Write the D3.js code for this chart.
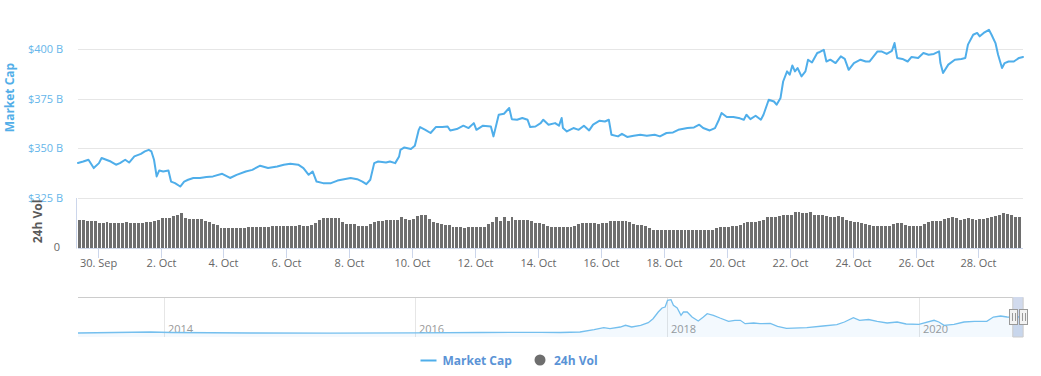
<!DOCTYPE html>
<html><head><meta charset="utf-8">
<script src="https://cdn.jsdelivr.net/npm/d3@7"></script>
<style>
body{margin:0;background:#fff}
svg{display:block;font-family:"Open Sans",sans-serif}
</style>
</head><body>
<svg id="c" width="1041" height="376"></svg>
<script>
// ---------- data ----------
const capTimes = ["09-29 09","09-29 13","09-29 17","09-29 21","09-30 01","09-30 03","09-30 10","09-30 14","09-30 17","09-30 21",
"10-01 00","10-01 04","10-01 09","10-01 12","10-01 15","10-01 17","10-01 19","10-01 21","10-01 23","10-02 02",
"10-02 06","10-02 08","10-02 11","10-02 15","10-02 18","10-02 21","10-03 01","10-03 06","10-03 11","10-03 16",
"10-03 23","10-04 05","10-04 10","10-04 17","10-04 22","10-05 04","10-05 10","10-05 17","10-05 22","10-06 03",
"10-06 09","10-06 13","10-06 17","10-06 20","10-06 23","10-07 04","10-07 10","10-07 15","10-07 20","10-08 01",
"10-08 06","10-08 10","10-08 13","10-08 16","10-08 19","10-08 22","10-09 04","10-09 07","10-09 11","10-09 14",
"10-09 15","10-09 18","10-09 23","10-10 02","10-10 05","10-10 06","10-10 10","10-10 14","10-10 18","10-10 23",
"10-11 03","10-11 05","10-11 10","10-11 15","10-11 19","10-11 23","10-12 01","10-12 06","10-12 12","10-12 14",
"10-12 18","10-12 22","10-13 02","10-13 04","10-13 08","10-13 12","10-13 16","10-13 18","10-13 22","10-14 02",
"10-14 04","10-14 08","10-14 13","10-14 16","10-14 18","10-14 19","10-14 22","10-15 03","10-15 07","10-15 11",
"10-15 15","10-15 18","10-15 23","10-16 03","10-16 06","10-16 08","10-16 13","10-16 16","10-16 20","10-17 01",
"10-17 06","10-17 11","10-17 17","10-17 21","10-18 02","10-18 07","10-18 11","10-18 18","10-18 23","10-19 03",
"10-19 06","10-19 11","10-19 15","10-19 18","10-19 20","10-20 00","10-20 05","10-20 10","10-20 13","10-20 15",
"10-20 18","10-20 22","10-21 02","10-21 04","10-21 08","10-21 12","10-21 14","10-21 17","10-21 19","10-21 22",
"10-22 00","10-22 02","10-22 04","10-22 06","10-22 09","10-22 12","10-22 14","10-22 17","10-22 21","10-22 23",
"10-23 02","10-23 04","10-23 07","10-23 11","10-23 15","10-23 18","10-23 21","10-24 01","10-24 06","10-24 10",
"10-24 13","10-24 19","10-24 22","10-25 02","10-25 06","10-25 08","10-25 10","10-25 14","10-25 18","10-25 21",
"10-26 02","10-26 06","10-26 10","10-26 14","10-26 18","10-26 19","10-26 21","10-27 01","10-27 06","10-27 11",
"10-27 14","10-27 16","10-27 20","10-27 23","10-28 01","10-28 04","10-28 08","10-28 10","10-28 13","10-28 15",
"10-28 18","10-28 20","10-28 23","10-29 03","10-29 07","10-29 10"];
// market cap, billions USD
const capValues = [342.6,343.3,344.2,340.0,342.5,345.1,343.3,341.7,342.5,344.2,
342.8,345.9,347.2,348.4,349.2,348.4,344.2,335.8,338.8,338.3,
338.8,333.2,332.4,330.7,333.2,334.1,335.0,335.0,335.5,335.8,
337.1,335.0,336.6,338.3,339.1,341.2,340.0,340.8,341.7,342.2,
341.7,340.0,336.6,338.3,333.2,332.4,332.4,333.7,334.4,335.0,
334.4,333.2,331.9,334.1,342.5,343.3,342.8,343.3,342.5,345.9,
349.2,350.4,349.6,351.3,359.3,360.7,359.3,357.7,360.7,360.7,
361.0,359.0,359.7,361.4,360.2,362.7,359.3,361.4,361.0,356.0,
366.9,367.4,370.3,364.7,364.4,365.3,364.4,360.7,361.0,362.7,
364.4,361.9,362.7,361.4,365.3,360.2,358.5,360.2,359.3,361.4,
359.0,361.9,363.9,363.5,364.4,356.8,356.0,357.3,355.7,356.3,
356.8,356.3,356.8,356.0,357.7,358.0,359.3,360.2,360.5,361.9,
360.2,359.0,360.2,364.4,367.8,365.8,365.8,365.1,364.4,366.9,
364.7,366.4,364.4,366.9,374.5,373.6,372.0,375.4,383.7,388.8,
387.1,391.8,388.8,390.5,386.3,388.8,394.7,393.3,398.1,398.6,
399.7,393.8,394.7,393.0,396.4,395.1,389.6,393.0,394.7,393.8,
393.8,398.9,398.9,397.6,399.2,403.1,395.6,395.1,393.8,396.1,
395.6,398.1,397.2,397.6,398.9,393.0,388.0,392.2,394.7,395.1,
395.6,402.3,407.3,408.2,406.5,408.2,409.8,407.3,403.1,397.2,
390.5,393.0,393.8,393.8,395.6,396.1];

// 24h volume, billions USD, one bar per 3 hours starting at volStart
const volStart = "2020-09-29 09";
const volValues = [28.3,28.5,27.8,27.3,27.0,25.8,25.6,25.9,25.5,25.7,
25.6,25.8,25.9,25.5,25.0,25.1,25.0,26.0,26.2,27.8,
28.3,30.0,30.0,30.2,32.5,33.3,35.7,30.0,29.3,29.5,
29.3,29.0,27.0,26.0,24.5,23.0,20.5,20.3,20.5,20.3,
20.5,20.3,20.6,21.5,21.7,21.5,21.8,21.7,21.6,22.0,
22.7,22.5,22.8,22.7,22.6,22.7,22.9,22.7,22.5,23.0,
25.0,28.0,30.0,30.2,30.0,30.0,30.0,26.0,24.3,24.3,
24.0,22.3,22.3,22.8,24.0,26.5,27.7,27.7,28.0,28.3,
28.3,28.3,31.0,29.0,28.5,29.5,32.0,33.3,33.5,29.0,
26.0,25.0,24.5,23.5,23.0,21.5,21.0,21.0,20.8,21.0,
21.0,21.2,21.0,21.5,24.0,26.7,31.5,27.0,31.7,27.5,
31.7,28.3,28.3,28.3,28.3,27.0,25.0,25.0,24.5,22.0,
21.7,21.5,21.7,21.5,21.8,21.7,22.5,24.5,25.0,25.0,
25.0,25.3,24.8,25.2,25.0,27.0,27.3,27.5,27.3,27.0,
26.5,24.0,23.3,23.3,22.5,20.0,18.5,18.3,18.3,18.2,
18.3,18.2,18.4,18.3,18.5,18.3,18.4,18.3,18.5,18.3,
18.5,18.5,20.5,21.7,21.5,21.7,22.0,22.3,23.5,25.5,
26.0,26.7,26.5,27.0,28.0,31.5,31.7,31.7,32.0,33.0,
33.3,33.3,36.0,36.7,35.5,35.0,36.5,33.3,33.0,33.3,
32.5,31.5,31.7,32.5,31.5,28.0,27.0,26.7,26.5,25.7,
24.5,23.5,22.3,22.3,22.3,22.4,22.5,24.0,25.0,25.0,
23.0,22.3,22.0,22.3,22.5,24.0,26.0,27.3,27.5,27.0,
29.5,30.7,31.0,30.5,28.5,29.0,30.5,29.0,28.5,29.0,
29.5,30.5,31.5,32.0,33.0,35.0,34.0,33.5,31.7,31.7];

const capTicks = [325, 350, 375, 400];
const volTicks = [0];

// navigator (full history)
const navDates = ["2013-04-28","2013-11-25","2014-01-23","2014-09-10","2015-05-01","2016-01-01","2016-07-08","2017-01-01","2017-02-25","2017-04-23",
"2017-06-03","2017-07-01","2017-07-19","2017-08-18","2017-09-02","2017-09-20","2017-10-16","2017-11-07","2017-11-21","2017-12-06",
"2017-12-17","2017-12-26","2018-01-02","2018-01-12","2018-01-19","2018-01-30","2018-02-10","2018-02-17","2018-02-28","2018-03-14",
"2018-04-01","2018-04-16","2018-04-27","2018-05-15","2018-06-03","2018-06-28","2018-07-16","2018-08-01","2018-08-15","2018-09-09",
"2018-09-27","2018-10-27","2018-11-17","2018-12-13","2019-02-10","2019-03-29","2019-05-08","2019-05-30","2019-06-25","2019-07-13",
"2019-08-08","2019-09-02","2019-10-01","2019-10-30","2019-11-25","2020-01-01","2020-02-14","2020-02-28","2020-03-14","2020-04-12",
"2020-05-11","2020-06-10","2020-07-16","2020-08-04","2020-08-25","2020-09-13","2020-10-01","2020-10-29"];
const navValues = [3,13,8,3,1,5,8,10,8,13,
36,56,46,63,80,63,80,106,146,213,
253,263,330,336,280,253,180,213,213,163,
123,163,196,180,153,120,130,130,96,103,
96,98,70,50,56,73,86,113,156,130,
138,120,103,113,93,90,130,113,80,90,
113,120,120,163,173,163,160,166];
const navStart = "2013-04-28", navEnd = "2020-10-29";
const navYears = [2014, 2016, 2018, 2020];

const legendItems = ["Market Cap", "24h Vol"];

// ---------- drawing ----------
const svg = d3.select("#c");
const L = 78, R = 1023;
const lineColor = "#4faeea", volColor = "#6e6e6e";

const parseH = d3.utcParse("%Y-%m-%d %H");
const times = capTimes.map(s => parseH("2020-" + s));
const x = d3.scaleUtc().domain(d3.extent(times)).range([L, R]);
const y = d3.scaleLinear().domain([325, 400]).range([197.8, 49.2]);
const yv = d3.scaleLinear().domain([0, 50]).range([248.3, 198.3]);

// grid lines
svg.append("g").selectAll("line").data(capTicks).join("line")
  .attr("x1", L).attr("x2", R)
  .attr("y1", d => Math.round(y(d)) + 0.5).attr("y2", d => Math.round(y(d)) + 0.5)
  .attr("stroke", "#e6e6e6");

// market cap axis labels
svg.append("g").selectAll("text").data(capTicks).join("text")
  .attr("x", 63).attr("y", d => y(d) + 4)
  .attr("text-anchor", "end").attr("font-size", 11).attr("fill", "#66b6ea")
  .text(d => "$" + d + " B");

svg.append("text").attr("transform", "translate(14,97.5) rotate(-90)")
  .attr("text-anchor", "middle").attr("font-size", 12).attr("font-weight", "bold")
  .attr("fill", "#52aee8").text("Market Cap");

// volume bars
const vStart = parseH(volStart);
const bars = volValues.map((v, i) => ({t: d3.utcHour.offset(vStart, 3 * i), v}));
svg.append("g").attr("shape-rendering", "crispEdges").selectAll("rect").data(bars).join("rect")
  .attr("x", d => x(d.t))
  .attr("width", d => x(d3.utcHour.offset(d.t, 3)) - x(d.t) - 1)
  .attr("y", d => yv(d.v))
  .attr("height", d => yv(0) - yv(d.v))
  .attr("fill", volColor);

// volume axis
svg.append("line").attr("x1", 76.5).attr("x2", 76.5).attr("y1", 198).attr("y2", 248.5).attr("stroke", "#ccd6eb");
svg.append("g").selectAll("text").data(volTicks).join("text")
  .attr("x", 60).attr("y", d => yv(d) + 3)
  .attr("text-anchor", "end").attr("font-size", 11).attr("fill", "#666").text(d => d);
svg.append("text").attr("transform", "translate(42,221.5) rotate(-90)")
  .attr("text-anchor", "middle").attr("font-size", 12).attr("font-weight", "bold")
  .attr("fill", "#5a5a5a").text("24h Vol");

// x axis
svg.append("line").attr("x1", L).attr("x2", R).attr("y1", 248.5).attr("y2", 248.5).attr("stroke", "#ccd6eb");
const xTicks = d3.utcDay.range(new Date(Date.UTC(2020, 8, 30)), x.domain()[1], 2);
const fmt = d3.utcFormat("%-d. %b");
const xt = svg.append("g").selectAll("g").data(xTicks).join("g")
  .attr("transform", d => `translate(${Math.round(x(d)) + 0.5},0)`);
xt.append("line").attr("y1", 248).attr("y2", 258).attr("stroke", "#ccd6eb");
xt.append("text").attr("y", 266.5).attr("text-anchor", "middle")
  .attr("font-size", 11).attr("fill", "#666").text(d => fmt(d));

// market cap line
svg.append("path")
  .datum(capValues.map((v, i) => [times[i], v]))
  .attr("fill", "none").attr("stroke", lineColor).attr("stroke-width", 2)
  .attr("stroke-linejoin", "round").attr("stroke-linecap", "round")
  .attr("d", d3.line().x(d => x(d[0])).y(d => y(d[1])));

// ---------- navigator ----------
const parseD = d3.utcParse("%Y-%m-%d");
const NT = 297, NB = 337;
const nx = d3.scaleUtc().domain([parseD(navStart), parseD(navEnd)]).range([L, R]);
const ny = d3.scaleLinear().domain([0, d3.max(navValues)]).range([333.3, 299.7]);
const navData = navDates.map((d, i) => [parseD(d), navValues[i]]);

const yearG = svg.append("g").selectAll("g").data(navYears).join("g")
  .attr("transform", d => `translate(${Math.round(nx(new Date(Date.UTC(d, 0, 1)))) + 0.5},0)`);
yearG.append("line").attr("y1", NT).attr("y2", NB).attr("stroke", "#e6e6e6");
yearG.append("text").attr("x", 3.5).attr("y", 332.5).attr("font-size", 11).attr("fill", "#999").text(d => d);

svg.append("path").datum(navData)
  .attr("fill", "rgba(79,174,234,0.07)")
  .attr("d", d3.area().x(d => nx(d[0])).y0(NB).y1(d => ny(d[1])));
svg.append("path").datum(navData)
  .attr("fill", "none").attr("stroke", "#74bfee").attr("stroke-width", 1.3)
  .attr("d", d3.line().x(d => nx(d[0])).y(d => ny(d[1])));

// selection mask
const s0 = nx(x.domain()[0]), s1 = nx(x.domain()[1]);
svg.append("rect").attr("x", s0).attr("y", NT).attr("width", s1 - s0).attr("height", NB - NT)
  .attr("fill", "rgba(102,133,194,0.3)");
svg.append("path")
  .attr("d", `M${L},${NT + 0.5}H${s0}V${NB}H${s1}V${NT + 0.5}H${R}`)
  .attr("fill", "none").attr("stroke", "#cccccc");

// handles
[s0, s1].forEach(cx => {
  const g = svg.append("g").attr("transform", `translate(${Math.round(cx)},0)`);
  g.append("rect").attr("x", -3.5).attr("y", 309.5).attr("width", 8).attr("height", 15)
    .attr("fill", "#f2f2f2").attr("stroke", "#999");
  g.append("path").attr("d", "M-0.5,313V321M2.5,313V321").attr("stroke", "#999").attr("fill", "none");
});

// ---------- legend ----------
const lg = svg.append("g");
lg.append("line").attr("x1", 420.5).attr("x2", 436.5).attr("y1", 360.5).attr("y2", 360.5)
  .attr("stroke", lineColor).attr("stroke-width", 2);
lg.append("text").attr("x", 442.5).attr("y", 365).attr("font-size", 12).attr("font-weight", "bold")
  .attr("fill", "#5a93d6").text(legendItems[0]);
lg.append("circle").attr("cx", 540).attr("cy", 360).attr("r", 5.5).attr("fill", volColor);
lg.append("text").attr("x", 554).attr("y", 365).attr("font-size", 12).attr("font-weight", "bold")
  .attr("fill", "#5a93d6").text(legendItems[1]);
</script>
</body></html>
